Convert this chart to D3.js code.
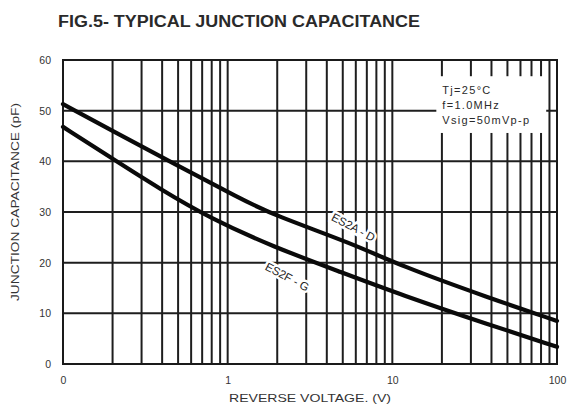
<!DOCTYPE html>
<html>
<head>
<meta charset="utf-8">
<script src="https://cdn.jsdelivr.net/npm/d3@7"></script>
<style>
  body { margin: 0; background: #fff; }
  svg { display: block; font-family: "Liberation Sans", Arial, sans-serif; }
  .grid line { stroke: #1e1e1e; stroke-width: 2; }
  .tick text { fill: #333; font-size: 10.5px; }
  .curve { fill: none; stroke: #0a0a0a; stroke-width: 4.2; stroke-linecap: round; }
</style>
</head>
<body>
<svg id="chart" width="575" height="412"></svg>
<script>
// reverse voltage (V) and junction capacitance (pF)
var voltsAD = [0.1, 0.2, 0.45, 1.2, 1.9, 5.8, 11, 39, 100];
var capAD   = [51.3, 46, 39.9, 32.6, 29.4, 23.7, 19.5, 13, 8.5];
var voltsFG = [0.1, 0.2, 0.39, 0.78, 1.9, 5, 11, 39, 100];
var capFG   = [46.8, 40.5, 34.5, 28.8, 23.1, 18, 13.8, 7.7, 3.4];

var xTickValues = [0.1, 1, 10, 100];
var xTickLabels = ['0', '1', '10', '100'];
var yTickValues = [0, 10, 20, 30, 40, 50, 60];
var conditions = ['Tj=25\u00b0C', 'f=1.0MHz', 'Vsig=50mVp-p'];

var svg = d3.select('#chart');
var margin = {left: 63, right: 18, top: 60, bottom: 48};
var W = 575, H = 412;

var x = d3.scaleLog().domain([0.1, 100]).range([margin.left, W - margin.right]);
var y = d3.scaleLinear().domain([0, 60]).range([H - margin.bottom, margin.top]);

// log grid: 2..10 in every decade
var gridX = [];
[0.1, 1, 10].forEach(function (dec) {
    for (var k = 2; k <= 10; k++) gridX.push(dec * k);
});

var grid = svg.append('g').attr('class', 'grid');
grid.selectAll('.vx').data(gridX).enter().append('line')
    .attr('x1', function (d) { return x(d); })
    .attr('x2', function (d) { return x(d); })
    .attr('y1', y(60)).attr('y2', y(0));
grid.selectAll('.hy').data(yTickValues.slice(1, -1)).enter().append('line')
    .attr('x1', x(0.1)).attr('x2', x(100))
    .attr('y1', function (d) { return y(d); })
    .attr('y2', function (d) { return y(d); });

// white box behind the test conditions
var boxX = x(18.5), boxY = y(56.8), boxW = x(86) - boxX, boxH = y(45.6) - boxY;
svg.append('rect')
    .attr('x', boxX).attr('y', boxY)
    .attr('width', boxW).attr('height', boxH)
    .attr('fill', '#fff');

svg.append('g').selectAll('text').data(conditions).enter().append('text')
    .attr('x', boxX + 6)
    .attr('y', function (d, i) { return boxY + 18 + i * 15; })
    .attr('font-size', 11)
    .attr('letter-spacing', 1.3)
    .attr('fill', '#2a2a2a')
    .text(function (d) { return d; });

// frame
svg.append('rect')
    .attr('x', x(0.1)).attr('y', y(60))
    .attr('width', x(100) - x(0.1)).attr('height', y(0) - y(60))
    .attr('fill', 'none').attr('stroke', '#1a1a1a').attr('stroke-width', 2);

// curve labels sit on a white patch that hides the grid
function curveLabel(txt, v, c, ang) {
    svg.append('text')
        .attr('transform', 'translate(' + x(v) + ',' + y(c) + ') rotate(' + ang + ')')
        .attr('text-anchor', 'middle')
        .attr('dy', '0.35em')
        .attr('font-size', 11.5)
        .attr('fill', '#222')
        .attr('stroke', '#fff').attr('stroke-width', 5)
        .attr('paint-order', 'stroke')
        .text(txt);
}
curveLabel('ES2A - D', 5.8, 27.0, 28);
curveLabel('ES2F - G', 2.3, 17.2, 28);

// curves
var line = d3.line()
    .x(function (d) { return x(d[0]); })
    .y(function (d) { return y(d[1]); })
    .curve(d3.curveBasis);

svg.append('path').attr('class', 'curve').attr('d', line(d3.zip(voltsAD, capAD)));
svg.append('path').attr('class', 'curve').attr('d', line(d3.zip(voltsFG, capFG)));

// axes: labels only
var xAxis = d3.axisBottom(x).tickValues(xTickValues)
    .tickFormat(function (d, i) { return xTickLabels[i]; })
    .tickSize(0).tickPadding(13);
svg.append('g').attr('transform', 'translate(0,' + y(0) + ')').call(xAxis)
    .call(function (g) { g.select('.domain').remove(); });

var yAxis = d3.axisLeft(y).tickValues(yTickValues).tickSize(0).tickPadding(12);
svg.append('g').attr('transform', 'translate(' + x(0.1) + ',0)').call(yAxis)
    .call(function (g) { g.select('.domain').remove(); });

// titles
svg.append('text')
    .attr('x', 58).attr('y', 27)
    .attr('font-size', 16).attr('font-weight', 'bold')
    .attr('fill', '#2a2a2a')
    .attr('textLength', 362).attr('lengthAdjust', 'spacingAndGlyphs')
    .text('FIG.5- TYPICAL JUNCTION CAPACITANCE');

svg.append('text')
    .attr('x', (x(0.1) + x(100)) / 2).attr('y', 402)
    .attr('text-anchor', 'middle')
    .attr('font-size', 10.5).attr('fill', '#333')
    .attr('textLength', 162).attr('lengthAdjust', 'spacingAndGlyphs')
    .text('REVERSE VOLTAGE. (V)');

svg.append('text')
    .attr('transform', 'translate(19,202) rotate(-90)')
    .attr('text-anchor', 'middle')
    .attr('font-size', 10).attr('fill', '#333')
    .attr('textLength', 198).attr('lengthAdjust', 'spacingAndGlyphs')
    .text('JUNCTION CAPACITANCE (pF)');
</script>
</body>
</html>
